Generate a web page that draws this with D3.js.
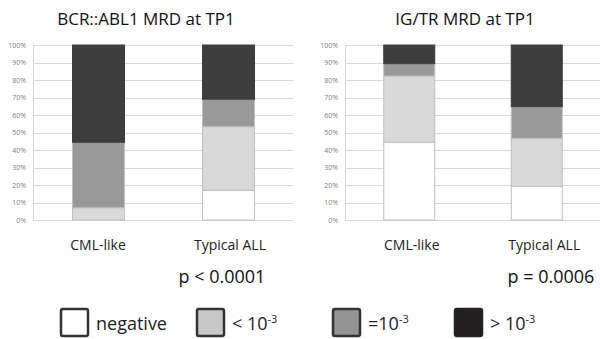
<!DOCTYPE html>
<html lang="en">
<head>
    <meta charset="UTF-8">
    <title>MRD at TP1</title>
    <style>
        body {
            margin: 0;
            background: #ffffff;
        }
        svg text {
            font-family: 'Open Sans', sans-serif;
        }
        .grid line {
            stroke: #d9d9d9;
            stroke-width: 1px;
        }
        .tick-label {
            fill: #7f7f7f;
            font-size: 7px;
        }
    </style>
    <script src="https://d3js.org/d3.v7.min.js"></script>
</head>
<body>
    <svg id="chart" width="600" height="339"></svg>

    <script>
        // categories and series (percent of patients)
        const groups = ["CML-like", "Typical ALL"];
        const levels = ["negative", "lt", "eq", "gt"];
        const ticks = [0, 10, 20, 30, 40, 50, 60, 70, 80, 90, 100];

        // BCR::ABL1 MRD at TP1
        const bcrNegative = [0, 17];
        const bcrBelow = [7, 36.3];
        const bcrEqual = [37.4, 15.7];
        const bcrAbove = [55.6, 31];

        // IG/TR MRD at TP1
        const igNegative = [44.4, 19.2];
        const igBelow = [37.9, 27.5];
        const igEqual = [7, 18.1];
        const igAbove = [10.7, 35.2];

        const colors = {
            negative: "#ffffff",
            lt: "#d9d9d9",
            eq: "#999999",
            gt: "#3d3d3d"
        };

        const svg = d3.select("#chart");

        function drawPanel(opts) {
            const x = d3.scaleBand()
                .domain(groups)
                .range([opts.left, opts.right])
                .paddingInner(0.6)
                .paddingOuter(0.3);

            const y = d3.scaleLinear()
                .domain([0, 100])
                .range([220, 45]);

            const g = svg.append("g");

            // gridlines
            g.append("g").attr("class", "grid")
                .selectAll("line")
                .data(ticks)
                .join("line")
                .attr("x1", opts.left)
                .attr("x2", opts.right)
                .attr("y1", d => Math.round(y(d)) + 0.5)
                .attr("y2", d => Math.round(y(d)) + 0.5);

            // y axis line
            g.append("line")
                .attr("x1", opts.left + 0.5)
                .attr("x2", opts.left + 0.5)
                .attr("y1", y(0))
                .attr("y2", y(100))
                .attr("stroke", "#d9d9d9");

            g.selectAll(".tick-label")
                .data(ticks)
                .join("text")
                .attr("class", "tick-label")
                .attr("x", opts.left - 7)
                .attr("y", d => y(d) + 2.5)
                .attr("text-anchor", "end")
                .text(d => d + "%");

            // stack the series
            const rows = groups.map((grp, i) => ({
                group: grp,
                negative: opts.data[0][i],
                lt: opts.data[1][i],
                eq: opts.data[2][i],
                gt: opts.data[3][i]
            }));
            const stacked = d3.stack().keys(levels)(rows);

            stacked.forEach(layer => {
                g.append("g")
                    .selectAll("rect")
                    .data(layer)
                    .join("rect")
                    .attr("x", d => x(d.data.group) + 0.5)
                    .attr("width", x.bandwidth())
                    .attr("y", d => y(d[1]))
                    .attr("height", d => y(d[0]) - y(d[1]))
                    .attr("fill", colors[layer.key])
                    .attr("stroke", layer.key === "gt" ? "#3d3d3d" : "#bfbfbf")
                    .attr("stroke-width", 1);
            });

            // category labels
            g.selectAll(".cat")
                .data(groups)
                .join("text")
                .attr("class", "cat")
                .attr("x", (d, i) => x(d) + x.bandwidth() / 2 + opts.labelShift[i])
                .attr("y", 250)
                .attr("text-anchor", "middle")
                .attr("font-size", "14px")
                .attr("fill", "#222")
                .text(d => d);

            // title
            svg.append("text")
                .attr("x", opts.titleX)
                .attr("y", 25)
                .attr("text-anchor", "middle")
                .attr("font-size", "17px")
                .attr("fill", "#111")
                .text(opts.title);

            // p value
            svg.append("text")
                .attr("x", opts.pX)
                .attr("y", 283)
                .attr("text-anchor", "middle")
                .attr("font-size", "18px")
                .attr("fill", "#111")
                .text(opts.p);
        }

        drawPanel({
            left: 33, right: 293,
            data: [bcrNegative, bcrBelow, bcrEqual, bcrAbove],
            title: "BCR::ABL1 MRD at TP1", titleX: 146,
            p: "p < 0.0001", pX: 222,
            labelShift: [0, 2]
        });

        drawPanel({
            left: 345, right: 600,
            data: [igNegative, igBelow, igEqual, igAbove],
            title: "IG/TR MRD at TP1", titleX: 465,
            p: "p = 0.0006", pX: 551,
            labelShift: [3, 8]
        });

        // legend
        const legendItems = [
            { key: "negative", x: 61, text: "negative", sup: null, stroke: "#333" },
            { key: "lt", x: 197, text: "< 10", sup: "-3", stroke: "#333" },
            { key: "eq", x: 333, text: "=10", sup: "-3", stroke: "#333" },
            { key: "gt", x: 455, text: "> 10", sup: "-3", stroke: "#222" }
        ];
        const legendFill = { negative: "#ffffff", lt: "#c8c8c8", eq: "#939393", gt: "#231f20" };

        const legend = svg.append("g");
        legendItems.forEach(item => {
            legend.append("rect")
                .attr("x", item.x)
                .attr("y", 309)
                .attr("width", 27)
                .attr("height", 27)
                .attr("rx", 2)
                .attr("fill", legendFill[item.key])
                .attr("stroke", item.stroke)
                .attr("stroke-width", 2.5);

            const t = legend.append("text")
                .attr("x", item.x + 35)
                .attr("y", 330)
                .attr("font-size", "18px")
                .attr("fill", "#222");
            t.append("tspan").text(item.text);
            if (item.sup) {
                t.append("tspan")
                    .attr("dy", -7)
                    .attr("font-size", "11px")
                    .text(item.sup);
            }
        });
    </script>
</body>
</html>
